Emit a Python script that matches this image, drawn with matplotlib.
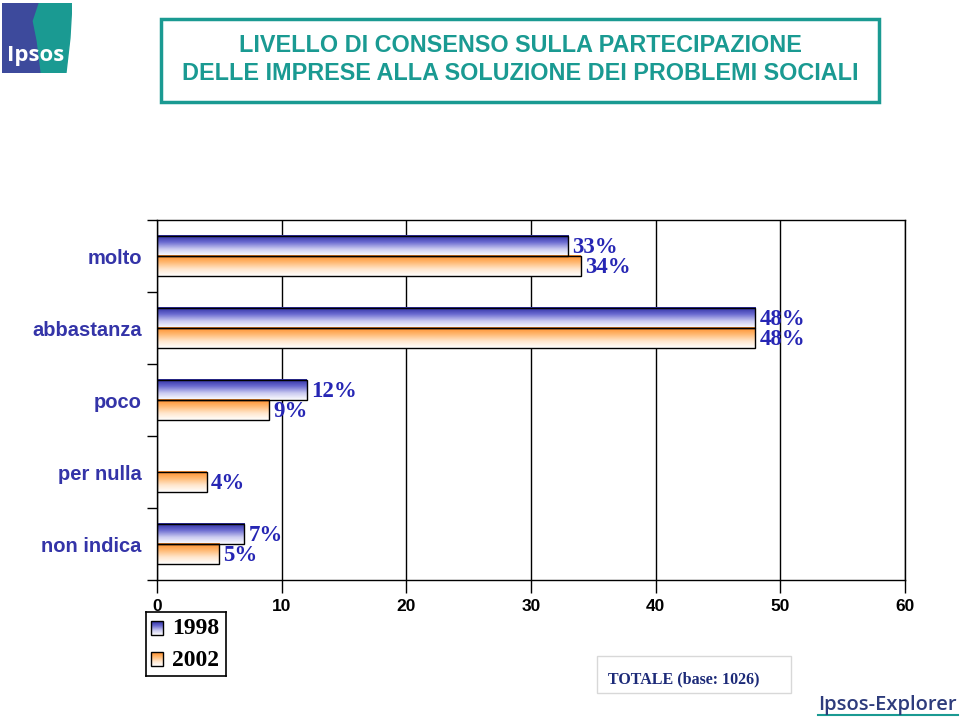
import matplotlib.pyplot as plt
import numpy as np
from matplotlib.colors import LinearSegmentedColormap
from matplotlib.patches import Rectangle, Polygon

categories = ['molto', 'abbastanza', 'poco', 'per nulla', 'non indica']
val_1998 = [33, 48, 12, 0, 7]
val_2002 = [34, 48, 9, 4, 5]
series_names = ['1998', '2002']
x_ticks = [0, 10, 20, 30, 40, 50, 60]

title_lines = ['LIVELLO DI CONSENSO SULLA PARTECIPAZIONE',
               'DELLE IMPRESE ALLA SOLUZIONE DEI PROBLEMI SOCIALI']
base_note = 'TOTALE (base: 1026)'

TEAL = '#1A9A92'
LABEL_BLUE = '#3434A8'
VALUE_BLUE = '#2626B4'

cmap_blue = LinearSegmentedColormap.from_list('b', ['#2C2CA0', '#6A6AD0', '#CACAF0', '#FFFFFF'])
cmap_orange = LinearSegmentedColormap.from_list('o', ['#FF8C28', '#FFB870', '#FFE6CC', '#FFFFFF'])
grad = np.linspace(0, 1, 100).reshape(-1, 1)


def gradient_bars(ax, bars, cmap):
	for b in bars:
		if b.get_width() <= 0:
			continue
		y0 = b.get_y()
		h = b.get_height()
		ax.imshow(grad, cmap=cmap, origin='upper', aspect='auto', zorder=2,
		          extent=(0, b.get_width(), y0 + h, y0))


def value_labels(ax, bars, vals):
	for b, v in zip(bars, vals):
		if v > 0:
			ax.annotate(f'{v}%', (v, b.get_y() + b.get_height() / 2), xytext=(3, -1),
			            textcoords='offset points', va='center', ha='left', fontweight='bold',
			            fontsize=16.5, fontfamily='Liberation Serif', color=VALUE_BLUE, zorder=5)


fig = plt.figure(figsize=(9.6, 7.2), dpi=100)
ax = fig.add_axes([0.1635, 0.1944, 0.7792, 0.5])

pos = np.arange(len(categories))
h = 0.28
bars1 = ax.barh(pos - 0.14, val_1998, height=h, facecolor='none', edgecolor='black', lw=1.0, zorder=3)
bars2 = ax.barh(pos + 0.14, val_2002, height=h, facecolor='none', edgecolor='black', lw=1.0, zorder=3)
for b, v in zip(bars1, val_1998):
	if v == 0:
		b.set_visible(False)
gradient_bars(ax, bars1, cmap_blue)
gradient_bars(ax, bars2, cmap_orange)
value_labels(ax, bars1, val_1998)
value_labels(ax, bars2, val_2002)

ax.set_xlim(0, 60)
ax.set_ylim(len(categories) - 0.5, -0.5)
ax.set_xticks(x_ticks)
ax.set_xticklabels([str(t) for t in x_ticks], fontsize=12.5, fontweight='bold', fontfamily='Liberation Sans')
ax.tick_params(axis='x', direction='out', length=9, width=1, pad=5)
ax.set_yticks(pos)
ax.set_yticklabels(categories, fontsize=14.5, fontweight='bold', fontfamily='Liberation Sans', color=LABEL_BLUE)
ax.tick_params(axis='y', which='major', length=0, pad=11)
ax.set_yticks(np.arange(-0.5, len(categories), 1.0), minor=True)
ax.tick_params(axis='y', which='minor', direction='out', length=7, width=1)
ax.grid(axis='x', color='black', lw=1.0, zorder=1)
for s in ax.spines.values():
	s.set_linewidth(1.0)
	s.set_zorder(4)

# title box
fig.patches.append(Rectangle((0.1677, 0.8583), 0.748, 0.1153, transform=fig.transFigure,
                             fill=False, edgecolor=TEAL, lw=2.5))
fig.text(0.5417, 1 - 46 / 720, title_lines[0], ha='center', va='center', fontsize=16.8,
         fontweight='bold', fontfamily='Liberation Sans', color=TEAL)
fig.text(0.5417, 1 - 73 / 720, title_lines[1], ha='center', va='center', fontsize=16.8,
         fontweight='bold', fontfamily='Liberation Sans', color=TEAL)

# Ipsos logo
lg = fig.add_axes([0.002, 1 - 73 / 720, 70 / 960, 70 / 720])
lg.set_xlim(0, 70)
lg.set_ylim(70, 0)
lg.axis('off')
lg.add_patch(Polygon([(0, 0), (70, 0), (68, 35), (64, 70), (0, 70)], closed=True, color=TEAL))
lg.add_patch(Polygon([(0, 0), (36, 0), (30, 18), (34, 38), (38, 70), (0, 70)], closed=True, color='#3D4A9C'))
lg.text(34, 53, 'Ipsos', color='white', fontsize=16, fontweight='bold', fontfamily='Open Sans',
        ha='center', va='center')

# legend
la = fig.add_axes([146 / 960, 1 - 676 / 720, 80 / 960, 64 / 720])
la.set_xlim(0, 80)
la.set_ylim(64, 0)
la.set_xticks([])
la.set_yticks([])
for s in la.spines.values():
	s.set_linewidth(1.2)
for i, (name, cm) in enumerate(zip(series_names, [cmap_blue, cmap_orange])):
	yc = 16 + i * 31
	la.imshow(grad, cmap=cm, origin='upper', aspect='auto', extent=(5, 17, yc + 7, yc - 7))
	la.add_patch(Rectangle((5, yc - 7), 12, 14, fill=False, edgecolor='black', lw=1))
	la.text(26, yc + 1, name, fontsize=17, fontweight='bold', fontfamily='Liberation Serif',
	        va='center', ha='left')

# base note box
fig.patches.append(Rectangle((597 / 960, 1 - 693 / 720), 194 / 960, 37 / 720, transform=fig.transFigure,
                             fill=False, edgecolor='#D8D8D8', lw=1))
fig.text(608 / 960, 1 - 679 / 720, base_note, fontsize=11.5, fontweight='bold',
         fontfamily='Liberation Serif', color='#1C2A78', va='center', ha='left')

# Ipsos-Explorer mark
fig.text(957 / 960, 1 - 705 / 720, 'Ipsos-Explorer', fontsize=14.5, fontweight='semibold',
         fontfamily='Open Sans', color='#2E3C7C', va='center', ha='right')
fig.lines.append(plt.Line2D([818 / 960, 958 / 960], [1 - 715 / 720, 1 - 715 / 720],
                            transform=fig.transFigure, color=TEAL, lw=1.5))

fig.savefig('out.png', dpi=100)
